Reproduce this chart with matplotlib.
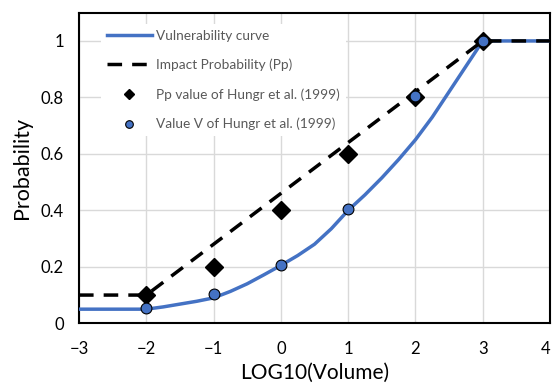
import matplotlib
matplotlib.use("Agg")
import matplotlib.pyplot as plt
from matplotlib.lines import Line2D

plt.rcParams['font.family'] = ['Lato', 'DejaVu Sans']

# Vulnerability curve
vul_x = [-3, -2, -1.75, -1.5, -1.25, -1, -0.75, -0.5, -0.25, 0, 0.25, 0.5, 0.75,
         1, 1.25, 1.5, 1.75, 2, 2.25, 2.5, 2.75, 3, 4]
vul_y = [0.05, 0.05, 0.058, 0.068, 0.078, 0.09, 0.113, 0.14, 0.172, 0.205, 0.24, 0.28, 0.335,
         0.40, 0.455, 0.515, 0.58, 0.65, 0.73, 0.82, 0.91, 1.0, 1.0]

# Impact probability (Pp)
imp_x = [-3, -2, 3, 4]
imp_y = [0.1, 0.1, 1.0, 1.0]

# Hungr et al. (1999) points
pts_x = [-2, -1, 0, 1, 2, 3]
pp_vals = [0.1, 0.2, 0.4, 0.6, 0.8, 1.0]
v_vals = [0.055, 0.105, 0.205, 0.405, 0.805, 1.0]

xticks = [-3, -2, -1, 0, 1, 2, 3, 4]
yticks = [0, 0.2, 0.4, 0.6, 0.8, 1]
ytick_labels = ['0', '0.2', '0.4', '0.6', '0.8', '1']

labels = ['Vulnerability curve', 'Impact Probability (Pp)',
          'Pp value of Hungr et al. (1999)', 'Value V of Hungr et al. (1999)']

blue = '#4472C4'
lw = 2.5
dash = (4.2, 2.9)

fig = plt.figure(figsize=(5.53, 3.87), dpi=100)
ax = fig.add_axes([79/553, 1 - 323.3/387, (550 - 79)/553, (323.3 - 12.7)/387])

ax.plot(vul_x, vul_y, color=blue, lw=lw, zorder=3, solid_capstyle='butt')
ax.plot(imp_x, imp_y, color='black', lw=lw, dashes=dash, zorder=4)
ax.plot(pts_x, pp_vals, linestyle='none', marker='D', ms=9.5, color='black', zorder=5)
ax.plot(pts_x, v_vals, linestyle='none', marker='o', ms=7.8, markerfacecolor=blue,
        markeredgecolor='black', markeredgewidth=0.8, zorder=6)

ax.set_xlim(-3, 4)
ax.set_ylim(0, 1.1)
ax.set_xticks(xticks)
ax.set_yticks(yticks)
ax.set_yticklabels(ytick_labels)
ax.grid(True, color='#D9D9D9', lw=1.0, zorder=0)
ax.set_axisbelow(True)
ax.tick_params(axis='both', length=0, labelsize=12, colors='black')
ax.tick_params(axis='y', pad=11)
ax.tick_params(axis='x', pad=13)
for s in ax.spines.values():
    s.set_color('black')
    s.set_linewidth(1.5)

# keep the last x tick label inside the figure
fig.canvas.draw()
ax.get_xticklabels()[-1].set_horizontalalignment('right')

ax.set_xlabel('LOG10(Volume)', fontsize=15, labelpad=4)
ax.set_ylabel('Probability', fontsize=15.5, labelpad=6)

handles = [
    Line2D([], [], color=blue, lw=lw),
    Line2D([], [], color='black', lw=lw, dashes=dash),
    Line2D([], [], linestyle='none', marker='D', ms=5, color='black'),
    Line2D([], [], linestyle='none', marker='o', ms=5.5, markerfacecolor=blue,
           markeredgecolor='black', markeredgewidth=0.8),
]
leg = ax.legend(handles, labels, loc='upper left', bbox_to_anchor=(0.033, 0.985),
                fontsize=9.8, frameon=True, facecolor='white', edgecolor='none',
                framealpha=1, fancybox=False, handlelength=3.3, handletextpad=0.35,
                labelspacing=1.25, borderpad=0.4, labelcolor='#595959')
leg.set_zorder(2)

fig.savefig('out.png', dpi=100)
